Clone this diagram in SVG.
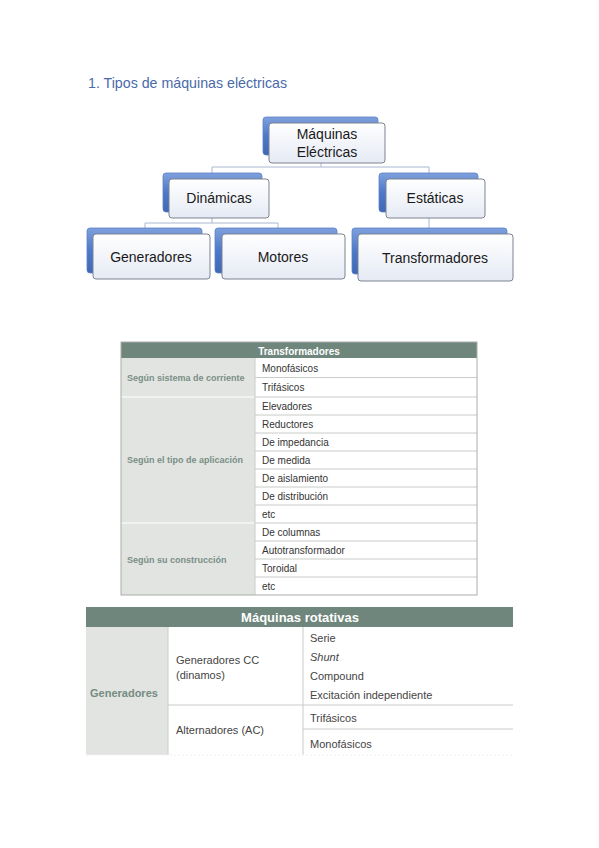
<svg xmlns="http://www.w3.org/2000/svg" width="599" height="848" viewBox="0 0 599 848">
<defs>
<linearGradient id="gBack" x1="0" y1="0" x2="0" y2="1">
<stop offset="0" stop-color="#7fa0dc"/>
<stop offset="0.5" stop-color="#4d79c9"/>
<stop offset="1" stop-color="#3f68b4"/>
</linearGradient>
<linearGradient id="gFront" x1="0" y1="0" x2="0" y2="1">
<stop offset="0" stop-color="#ffffff"/>
<stop offset="1" stop-color="#e5eaf4"/>
</linearGradient>
<style>
.back{fill:url(#gBack);stroke:#5b82c8;stroke-width:0.8}
.front{fill:url(#gFront);stroke:#7c8391;stroke-width:1}
.lbl{font-family:"Liberation Sans",Arial,sans-serif;font-size:14px;fill:#1a1a1a;text-anchor:middle;dominant-baseline:central}
.conn{fill:none;stroke:#aab8d2;stroke-width:1}
.hdr{fill:#6e867c}
.lcol{fill:#e1e4e1}
.t1{font-family:"Liberation Sans",Arial,sans-serif;font-size:10px;fill:#333;dominant-baseline:central}
.t1l{font-family:"Liberation Sans",Arial,sans-serif;font-size:9px;fill:#7a8e86;font-weight:bold;dominant-baseline:central}
.t2{font-family:"Liberation Sans",Arial,sans-serif;font-size:11px;fill:#444;dominant-baseline:central}
.t2l{font-family:"Liberation Sans",Arial,sans-serif;font-size:11px;fill:#768b83;font-weight:bold;dominant-baseline:central}
.hdt{font-family:"Liberation Sans",Arial,sans-serif;font-weight:bold;fill:#ffffff;text-anchor:middle;dominant-baseline:central}
.sep{stroke:#c8ccc8;stroke-width:1}
.wsep{stroke:#ffffff;stroke-width:1}
</style>
</defs>
<rect width="599" height="848" fill="#ffffff"/>

<text x="88" y="83" font-family="'Liberation Sans',Arial,sans-serif" font-size="14.5" fill="#4a6aa8" dominant-baseline="central" textLength="199" lengthAdjust="spacingAndGlyphs">1. Tipos de máquinas eléctricas</text>

<g id="connectors">
<path class="conn" d="M321 163 V167 M212 173 V167 H429 V173"/>
<path class="conn" d="M212 218 V223 M145 228 V223 H278 V228"/>
<path class="conn" d="M429 218 V228"/>
</g>

<g id="node-maquinas">
<rect class="back" x="263" y="117" width="115" height="38" rx="3"/>
<rect class="front" x="269" y="123" width="116" height="40" rx="3"/>
<text class="lbl" x="327" y="134">Máquinas</text>
<text class="lbl" x="327" y="152">Eléctricas</text>
</g>
<g id="node-dinamicas">
<rect class="back" x="163" y="173" width="99" height="39" rx="3"/>
<rect class="front" x="169" y="179" width="100" height="39" rx="3"/>
<text class="lbl" x="219" y="198">Dinámicas</text>
</g>
<g id="node-estaticas">
<rect class="back" x="379" y="173" width="99" height="39" rx="3"/>
<rect class="front" x="386" y="179" width="99" height="39" rx="3"/>
<text class="lbl" x="435" y="198">Estáticas</text>
</g>
<g id="node-generadores">
<rect class="back" x="87" y="228" width="115" height="45" rx="3"/>
<rect class="front" x="93" y="234" width="117" height="45" rx="3"/>
<text class="lbl" x="151" y="257">Generadores</text>
</g>
<g id="node-motores">
<rect class="back" x="215" y="228" width="122" height="45" rx="3"/>
<rect class="front" x="222" y="234" width="123" height="45" rx="3"/>
<text class="lbl" x="283" y="257">Motores</text>
</g>
<g id="node-transformadores">
<rect class="back" x="352" y="228" width="155" height="46" rx="3"/>
<rect class="front" x="358" y="234" width="155" height="47" rx="3"/>
<text class="lbl" x="435" y="258">Transformadores</text>
</g>

<g id="table-transformadores">
<rect x="121" y="342" width="356" height="253" fill="#ffffff"/>
<rect class="lcol" x="121" y="358" width="134" height="237"/>
<rect class="hdr" x="121" y="342" width="356" height="16"/>
<text class="hdt" x="299" y="351" font-size="10">Transformadores</text>
<line class="wsep" x1="121" y1="397" x2="255" y2="397"/>
<line class="wsep" x1="121" y1="523" x2="255" y2="523"/>
<g class="sep">
<line x1="255" y1="377.5" x2="477" y2="377.5"/>
<line x1="255" y1="397" x2="477" y2="397"/>
<line x1="255" y1="415" x2="477" y2="415"/>
<line x1="255" y1="433" x2="477" y2="433"/>
<line x1="255" y1="451" x2="477" y2="451"/>
<line x1="255" y1="469" x2="477" y2="469"/>
<line x1="255" y1="487" x2="477" y2="487"/>
<line x1="255" y1="505" x2="477" y2="505"/>
<line x1="255" y1="523" x2="477" y2="523"/>
<line x1="255" y1="541" x2="477" y2="541"/>
<line x1="255" y1="559" x2="477" y2="559"/>
<line x1="255" y1="577" x2="477" y2="577"/>
<line x1="255" y1="358" x2="255" y2="595"/>
</g>
<rect x="121" y="342" width="356" height="253" fill="none" stroke="#a9aea9" stroke-width="1"/>
<text class="t1l" x="127" y="378">Según sistema de corriente</text>
<text class="t1l" x="127" y="460">Según el tipo de aplicación</text>
<text class="t1l" x="127" y="560">Según su construcción</text>
<text class="t1" x="262" y="368">Monofásicos</text>
<text class="t1" x="262" y="387">Trifásicos</text>
<text class="t1" x="262" y="406">Elevadores</text>
<text class="t1" x="262" y="424">Reductores</text>
<text class="t1" x="262" y="442">De impedancia</text>
<text class="t1" x="262" y="460">De medida</text>
<text class="t1" x="262" y="478">De aislamiento</text>
<text class="t1" x="262" y="496">De distribución</text>
<text class="t1" x="262" y="514">etc</text>
<text class="t1" x="262" y="532">De columnas</text>
<text class="t1" x="262" y="550">Autotransformador</text>
<text class="t1" x="262" y="568">Toroidal</text>
<text class="t1" x="262" y="586">etc</text>
</g>

<g id="table-maquinas-rotativas">
<rect class="lcol" x="86" y="627" width="82" height="128"/>
<rect class="hdr" x="86" y="607" width="427" height="20"/>
<text class="hdt" x="300" y="617" font-size="13">Máquinas rotativas</text>
<line class="sep" x1="168" y1="627" x2="168" y2="755"/>
<line class="sep" x1="303" y1="627" x2="303" y2="755"/>
<line class="sep" x1="168" y1="705" x2="513" y2="705"/>
<line class="sep" x1="303" y1="729" x2="513" y2="729"/>
<line x1="86" y1="755" x2="513" y2="755" stroke="#f0f0f0" stroke-width="1" stroke-dasharray="2 2"/>
<text class="t2l" x="90" y="693">Generadores</text>
<text class="t2" x="176" y="660">Generadores CC</text>
<text class="t2" x="176" y="675">(dinamos)</text>
<text class="t2" x="176" y="730">Alternadores (AC)</text>
<text class="t2" x="310" y="638">Serie</text>
<text class="t2" x="310" y="657" font-style="italic">Shunt</text>
<text class="t2" x="310" y="676">Compound</text>
<text class="t2" x="310" y="695">Excitación independiente</text>
<text class="t2" x="310" y="718">Trifásicos</text>
<text class="t2" x="310" y="744">Monofásicos</text>
</g>
</svg>
